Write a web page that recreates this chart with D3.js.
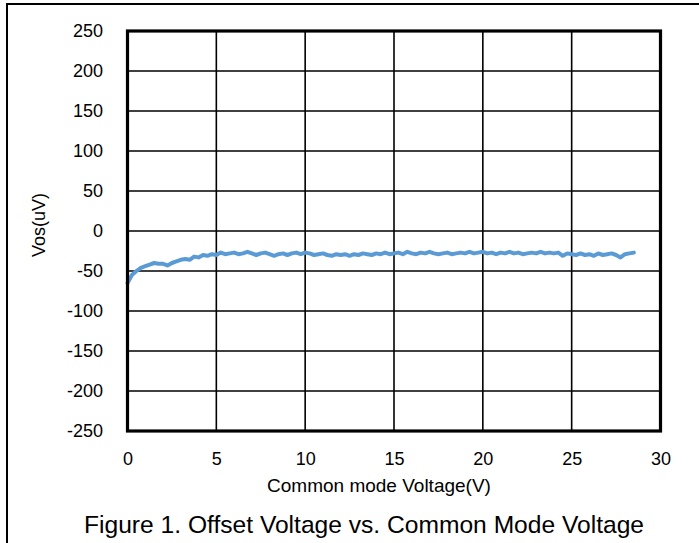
<!DOCTYPE html>
<html>
<head>
<meta charset="utf-8">
<script src="https://cdn.jsdelivr.net/npm/d3@7"></script>
<style>
  html, body { margin: 0; padding: 0; background: #fff; }
  svg { display: block; font-family: "Liberation Sans", Arial, sans-serif; }
</style>
</head>
<body>
<svg id="chart" width="699" height="543"></svg>
<script>
// Common-mode voltage sweep (V), 0.25 V steps
const vcm = [
  0, 0.25, 0.5, 0.75, 1, 1.25, 1.5, 1.75, 2, 2.25, 2.5, 2.75, 3, 3.25, 3.5, 3.75,
  4, 4.25, 4.5, 4.75, 5, 5.25, 5.5, 5.75, 6, 6.25, 6.5, 6.75, 7, 7.25, 7.5, 7.75,
  8, 8.25, 8.5, 8.75, 9, 9.25, 9.5, 9.75, 10, 10.25, 10.5, 10.75, 11, 11.25, 11.5, 11.75,
  12, 12.25, 12.5, 12.75, 13, 13.25, 13.5, 13.75, 14, 14.25, 14.5, 14.75, 15, 15.25, 15.5, 15.75,
  16, 16.25, 16.5, 16.75, 17, 17.25, 17.5, 17.75, 18, 18.25, 18.5, 18.75, 19, 19.25, 19.5, 19.75,
  20, 20.25, 20.5, 20.75, 21, 21.25, 21.5, 21.75, 22, 22.25, 22.5, 22.75, 23, 23.25, 23.5, 23.75,
  24, 24.25, 24.5, 24.75, 25, 25.25, 25.5, 25.75, 26, 26.25, 26.5, 26.75, 27, 27.25, 27.5, 27.75,
  28, 28.25, 28.5
];
// Measured input offset voltage (uV)
const vos = [
  -65, -55, -50, -46, -44, -42, -40, -41, -41, -43, -40, -38, -36, -35, -36, -32,
  -33, -30, -31, -29, -30, -27, -29, -28, -27, -29, -28, -26, -28, -30, -28, -27,
  -29, -31, -29, -28, -30, -28, -27, -29, -27, -28, -30, -29, -28, -30, -31, -29,
  -30, -29, -31, -29, -30, -28, -29, -30, -28, -29, -27, -29, -28, -27, -29, -26,
  -28, -29, -27, -28, -26, -28, -29, -28, -27, -29, -28, -27, -28, -26, -28, -27,
  -26, -28, -27, -29, -27, -28, -26, -28, -27, -29, -28, -27, -28, -26, -28, -27,
  -28, -27, -31, -28, -29, -30, -28, -30, -29, -31, -28, -30, -29, -28, -30, -33,
  -29, -28, -27
];
const xTicks = [0, 5, 10, 15, 20, 25, 30];
const yTicks = [250, 200, 150, 100, 50, 0, -50, -100, -150, -200, -250];

const xLabel = "Common mode Voltage(V)";
const yLabel = "Vos(uV)";
const caption = "Figure 1. Offset Voltage vs. Common Mode Voltage";

const svg = d3.select("#chart");
const plot = { left: 127.5, right: 660.5, top: 31, bottom: 431 };

const x = d3.scaleLinear().domain([0, 30]).range([plot.left, plot.right]);
const y = d3.scaleLinear().domain([-250, 250]).range([plot.bottom, plot.top]);

// outer frame (runs off the page on the right and bottom)
svg.append("path")
  .attr("d", `M7,${543 + 5} L7,4 L${699 + 5},4`)
  .attr("fill", "none").attr("stroke", "#000").attr("stroke-width", 2);

// gridlines
const grid = svg.append("g");
grid.selectAll("line.h").data(yTicks).join("line")
  .attr("x1", plot.left).attr("x2", plot.right)
  .attr("y1", d => y(d)).attr("y2", d => y(d))
  .attr("stroke", "#000").attr("stroke-width", 1.6);
grid.selectAll("line.v").data(xTicks).join("line")
  .attr("y1", plot.top).attr("y2", plot.bottom)
  .attr("x1", d => x(d)).attr("x2", d => x(d))
  .attr("stroke", "#000").attr("stroke-width", 1.6);

// data line
const line = d3.line().x((d, i) => x(vcm[i])).y(d => y(d));
svg.append("path")
  .datum(vos)
  .attr("d", line)
  .attr("fill", "none")
  .attr("stroke", "#5B9BD5")
  .attr("stroke-width", 4)
  .attr("stroke-linejoin", "round")
  .attr("stroke-linecap", "round");

// plot border
svg.append("rect")
  .attr("x", plot.left).attr("y", plot.top)
  .attr("width", plot.right - plot.left).attr("height", plot.bottom - plot.top)
  .attr("fill", "none").attr("stroke", "#000").attr("stroke-width", 3.2);

// axes (labels only, plain hyphen minus)
const fmt = d => String(d);
const yAxis = d3.axisLeft(y).tickValues(yTicks).tickSize(0).tickPadding(24.5).tickFormat(fmt);
svg.append("g").attr("transform", `translate(${plot.left},0)`).call(yAxis)
  .call(g => g.select(".domain").remove())
  .selectAll("text").attr("font-size", 18).attr("fill", "#000")
  .attr("font-family", "Liberation Sans, Arial, sans-serif");

const xAxis = d3.axisBottom(x).tickValues(xTicks).tickSize(0).tickPadding(21.5).tickFormat(fmt);
svg.append("g").attr("transform", `translate(0,${plot.bottom})`).call(xAxis)
  .call(g => g.select(".domain").remove())
  .selectAll("text").attr("font-size", 18).attr("fill", "#000")
  .attr("font-family", "Liberation Sans, Arial, sans-serif");

svg.append("text")
  .attr("x", 379).attr("y", 492)
  .attr("text-anchor", "middle").attr("font-size", 19).text(xLabel);

svg.append("text")
  .attr("transform", `translate(45,225) rotate(-90)`)
  .attr("text-anchor", "middle").attr("font-size", 18).text(yLabel);

svg.append("text")
  .attr("x", 84).attr("y", 533)
  .attr("text-anchor", "start").attr("font-size", 24.6).text(caption);
</script>
</body>
</html>
